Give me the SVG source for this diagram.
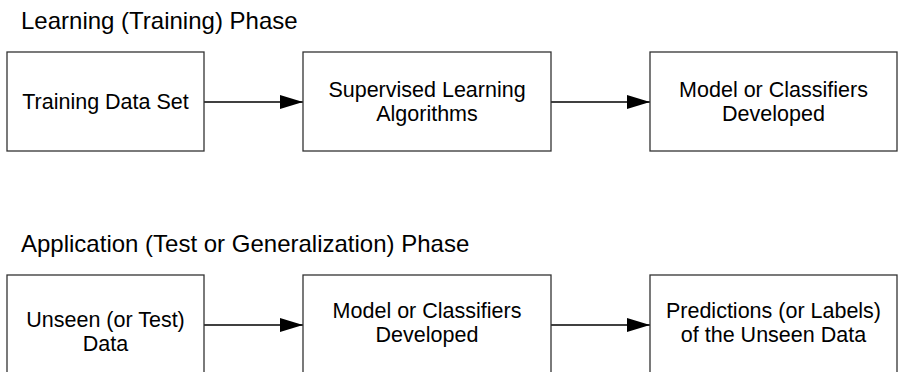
<svg xmlns="http://www.w3.org/2000/svg" width="898" height="372" viewBox="0 0 898 372">
<defs>
<style>
.box{fill:#fff;stroke:#333;stroke-width:1.3}
.t{font-family:"Liberation Sans",Arial,sans-serif;font-size:21.5px;fill:#000;text-anchor:middle}
.title{font-family:"Liberation Sans",Arial,sans-serif;font-size:24px;fill:#000}
.c{stroke:#000;stroke-width:1.3;fill:none}
</style>
<marker id="ah" markerUnits="userSpaceOnUse" markerWidth="23" markerHeight="14" refX="23" refY="7" orient="auto">
<path d="M0,0 L23,7 L0,14 Z" fill="#000"/>
</marker>
</defs>
<rect width="898" height="372" fill="#fff"/>
<text class="title" x="21" y="29">Learning (Training) Phase</text>
<text class="title" x="21" y="252">Application (Test or Generalization) Phase</text>
<g id="connectors">
<line class="c" x1="204" y1="102" x2="303" y2="102" marker-end="url(#ah)"/>
<line class="c" x1="551" y1="102" x2="650" y2="102" marker-end="url(#ah)"/>
<line class="c" x1="204" y1="325" x2="303" y2="325" marker-end="url(#ah)"/>
<line class="c" x1="551" y1="325" x2="650" y2="325" marker-end="url(#ah)"/>
</g>
<g id="n1"><rect class="box" x="7" y="52" width="197" height="99"/><text class="t" x="105.5" y="109">Training Data Set</text></g>
<g id="n2"><rect class="box" x="303" y="52" width="248" height="99"/><text class="t" x="427" y="97">Supervised Learning</text><text class="t" x="427" y="121">Algorithms</text></g>
<g id="n3"><rect class="box" x="650" y="52" width="247" height="99"/><text class="t" x="773.5" y="97">Model or Classifiers</text><text class="t" x="773.5" y="121">Developed</text></g>
<g id="n4"><rect class="box" x="7" y="275" width="197" height="99"/><text class="t" x="105.5" y="327">Unseen (or Test)</text><text class="t" x="105.5" y="351">Data</text></g>
<g id="n5"><rect class="box" x="303" y="275" width="248" height="99"/><text class="t" x="427" y="318">Model or Classifiers</text><text class="t" x="427" y="342">Developed</text></g>
<g id="n6"><rect class="box" x="650" y="275" width="247" height="99"/><text class="t" x="773.5" y="318">Predictions (or Labels)</text><text class="t" x="773.5" y="342">of the Unseen Data</text></g>
</svg>
